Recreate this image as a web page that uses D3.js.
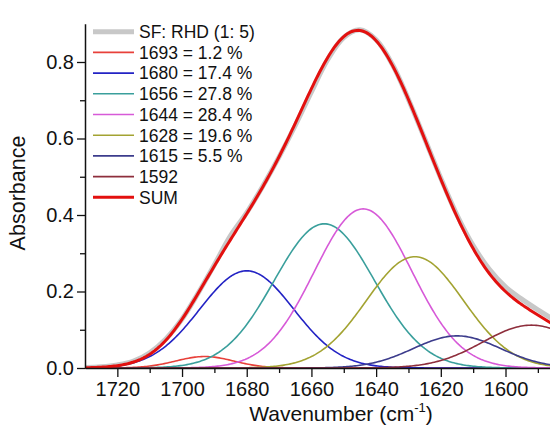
<!DOCTYPE html>
<html>
<head>
  <meta charset="utf-8">
  <title>Amide I band fit</title>
  <style>
    body { margin: 0; background: #fff; }
    svg { display: block; font-family: "Liberation Sans", Arial, sans-serif; }
    .tick text { font-size: 20px; fill: #111; }
    .legend text { font-size: 17.5px; fill: #111; }
  </style>
</head>
<body>
  <div id="chart"></div>

  <script src="https://d3js.org/d3.v7.min.js"></script>
  <script>
    // fitted bands: centre (cm-1), height, gaussian sigma
    const peakCenters = [1693, 1680, 1656, 1644, 1628, 1615, 1592];
    const peakHeights = [0.030, 0.254, 0.377, 0.416, 0.291, 0.084, 0.112];
    const peakSigmas  = [9, 14.5, 15.5, 15.1, 15, 13.5, 15];
    const peakLabels  = ["1693 = 1.2 %", "1680 = 17.4 %", "1656 = 27.8 %", "1644 = 28.4 %",
                         "1628 = 19.6 %", "1615 = 5.5 %", "1592"];
    const peakColors  = ["#e8403a", "#2323c4", "#3a9f9c", "#d75ad8", "#a3a332", "#3c3c8c", "#8e2e3c"];

    // measured spectrum (grey)
    const measuredWn  = [1730, 1725, 1720, 1715, 1710, 1705, 1700, 1695, 1690, 1685, 1680, 1675,
                         1670, 1665, 1660, 1655, 1650, 1645, 1640, 1635, 1630, 1625, 1620, 1615,
                         1610, 1605, 1600, 1595, 1590, 1585, 1580];
    const measuredAbs = [0.001, 0.003, 0.008, 0.018, 0.040, 0.076, 0.128, 0.196, 0.270, 0.346, 0.406, 0.476,
                         0.552, 0.634, 0.722, 0.806, 0.864, 0.884, 0.858, 0.794, 0.702, 0.600, 0.496, 0.400,
                         0.320, 0.258, 0.212, 0.180, 0.152, 0.126, 0.104];

    const xTicks = [1720, 1700, 1680, 1660, 1640, 1620, 1600];
    const xMinor = [1710, 1690, 1670, 1650, 1630, 1610, 1590];
    const yTicks = [0, 0.2, 0.4, 0.6, 0.8];
    const yMinor = [0.1, 0.3, 0.5, 0.7];

    const width = 550, height = 427;

    const x = d3.scaleLinear().domain([1730, 1580]).range([85, 570.2]);
    const y = d3.scaleLinear().domain([0, 0.9]).range([368, 23.75]);

    const svg = d3.select("#chart").append("svg")
      .attr("width", width)
      .attr("height", height);

    svg.append("clipPath").attr("id", "plot")
      .append("rect").attr("x", 85).attr("y", 0).attr("width", 470).attr("height", 369);

    // band shapes
    const grid = d3.range(1730, 1579.9, -0.5);
    const band = i => grid.map(w => ({
      w: w,
      a: peakHeights[i] * Math.exp(-((w - peakCenters[i]) ** 2) / (2 * peakSigmas[i] ** 2))
    }));
    const bands = peakCenters.map((c, i) => band(i));
    const sum = grid.map((w, k) => ({ w: w, a: d3.sum(bands, b => b[k].a) }));

    const line = d3.line().x(d => x(d.w)).y(d => y(d.a));

    const plot = svg.append("g").attr("clip-path", "url(#plot)");

    plot.append("path")
      .datum(measuredWn.map((w, i) => ({ w: w, a: measuredAbs[i] })))
      .attr("d", line.curve(d3.curveCatmullRom))
      .attr("fill", "none")
      .attr("stroke", "#c8c8c8")
      .attr("stroke-width", 5);

    line.curve(d3.curveLinear);

    bands.forEach((b, i) => {
      plot.append("path")
        .datum(b)
        .attr("d", line)
        .attr("fill", "none")
        .attr("stroke", peakColors[i])
        .attr("stroke-width", 1.6);
    });

    plot.append("path")
      .datum(sum)
      .attr("d", line)
      .attr("fill", "none")
      .attr("stroke", "#e3100f")
      .attr("stroke-width", 3);

    // axes
    const xAxis = svg.append("g")
      .attr("transform", "translate(0,368)")
      .call(d3.axisBottom(x).tickValues(xTicks).tickSize(9).tickPadding(5).tickSizeOuter(0).tickFormat(d3.format("d")));
    svg.append("g")
      .attr("transform", "translate(0,368)")
      .call(d3.axisBottom(x).tickValues(xMinor).tickSize(5).tickFormat(""))
      .select(".domain").remove();

    const yAxis = svg.append("g")
      .attr("transform", "translate(85,0)")
      .call(d3.axisLeft(y).tickValues(yTicks).tickSize(8).tickPadding(3).tickSizeOuter(0).tickFormat(d3.format(".1f")));
    svg.append("g")
      .attr("transform", "translate(85,0)")
      .call(d3.axisLeft(y).tickValues(yMinor).tickSize(5).tickFormat(""))
      .select(".domain").remove();

    svg.selectAll(".domain").attr("stroke", "#111").attr("stroke-width", 1.5);
    svg.selectAll(".tick line").attr("stroke", "#111").attr("stroke-width", 1.3);
    xAxis.selectAll("text").attr("font-family", null);
    yAxis.selectAll("text").attr("font-family", null);

    // axis titles
    svg.append("text")
      .attr("transform", "translate(25,193) rotate(-90)")
      .attr("text-anchor", "middle")
      .style("font-size", "21.5px")
      .attr("fill", "#111")
      .text("Absorbance");

    const xt = svg.append("text")
      .attr("x", 341)
      .attr("y", 421)
      .attr("text-anchor", "middle")
      .style("font-size", "21px")
      .attr("fill", "#111");
    xt.append("tspan").text("Wavenumber (cm");
    xt.append("tspan").attr("dy", -9).style("font-size", "13px").text("-1");
    xt.append("tspan").attr("dy", 9).text(")");

    // legend
    const legendItems = [{ label: "SF: RHD (1: 5)", color: "#c8c8c8", w: 5 }]
      .concat(peakLabels.map((l, i) => ({ label: l, color: peakColors[i], w: 1.6 })))
      .concat([{ label: "SUM", color: "#e3100f", w: 3 }]);

    const legend = svg.append("g").attr("class", "legend");
    legendItems.forEach((d, i) => {
      const ly = 31.7 + i * 20.7;
      legend.append("line")
        .attr("x1", 93).attr("x2", 134)
        .attr("y1", ly).attr("y2", ly)
        .attr("stroke", d.color)
        .attr("stroke-width", d.w);
      legend.append("text")
        .attr("x", 139)
        .attr("y", ly)
        .attr("dy", "0.36em")
        .text(d.label);
    });
  </script>
</body>
</html>
